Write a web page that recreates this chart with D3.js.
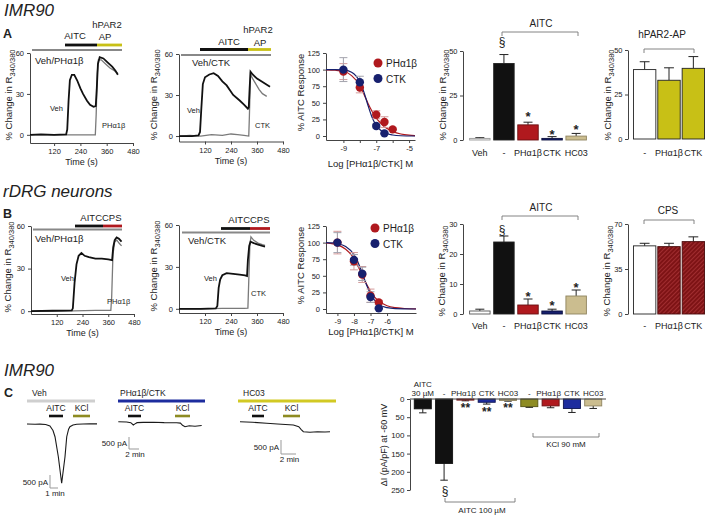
<!DOCTYPE html>
<html>
<head>
<meta charset="utf-8">
<script src="https://cdn.jsdelivr.net/npm/d3@7"></script>
<style>
  body { margin: 0; background: #fff; }
  text { font-family: 'Liberation Sans', Arial, sans-serif; fill: #222; }
</style>
</head>
<body>
<svg id="fig" width="709" height="515"></svg>
<script>
// ---------- data ----------
const timeTicks = [120, 240, 360, 480];
const traceTicks = [0, 30, 60];

// calcium traces: [time s, % change]
const traceA1Veh = [[10,0],[60,0.3],[120,0],[175,0.3],[180,4],[186,25],[192,40],[201,44],[212,44],[225,40],[240,34],[252,30],[270,25],[284,22],[300,20.5],[310,21],[315,35],[320,52],[328,57],[345,56],[365,53],[385,50],[400,47],[411,44]];
const traceA1PH = [[10,0],[150,0],[250,0],[308,0],[312,15],[317,45],[322,55],[335,55],[355,52],[375,49],[395,47],[411,45]];
const traceA2Veh = [[0,0],[60,0],[90,0.5],[97,3],[103,20],[110,38],[120,43],[140,45],[160,46],[180,44],[200,40],[220,37],[250,30],[280,26],[300,23],[318,20],[322,21],[326,35],[330,47],[340,45],[360,42],[380,40],[400,38],[420,36]];
const traceA2CTK = [[0,0],[50,0.5],[100,0],[150,1],[200,0.5],[240,1.5],[270,1],[300,0.5],[322,0],[325,15],[330,45],[340,42],[355,38],[370,34],[385,31],[405,29]];
const traceB1Veh = [[0,0],[100,0.3],[190,0.5],[195,2],[203,20],[212,33],[222,39],[235,41],[250,39],[270,38],[300,37],[330,37],[360,36.5],[378,36],[383,45],[390,50],[399,52],[410,51],[422,49]];
const traceB1PH = [[0,0],[150,0],[300,0.5],[372,0.5],[376,10],[382,40],[390,49],[400,50],[410,48],[422,46]];
const traceB2Veh = [[0,0],[100,0],[170,0.3],[177,2],[183,15],[190,21],[200,24],[220,25.5],[250,25],[280,24.5],[305,24],[314,23.5],[318,35],[324,45],[330,48],[345,47],[365,46],[385,45],[397,44.5]];
const traceB2CTK = [[0,0],[100,0],[200,0.3],[300,0.3],[318,0.5],[322,20],[327,45],[332,51.5],[345,49],[365,47],[385,46],[397,45.5]];

// concentration-response: log M, % response, sem
const doseA_PH = [[-9,97,12],[-8,73,8],[-7,32,6],[-6.5,21,8],[-6,10,2]];
const doseA_CTK = [[-9,100,18],[-8,81,9],[-7,15,3],[-6.5,4,2]];
const doseB_PH = [[-9,100,17],[-8,72,13],[-7.5,52,12],[-7,20,10],[-6.5,10,3]];
const doseB_CTK = [[-9,100,15],[-8,74,8],[-7.5,53,10],[-7,18,8],[-6.5,1,2]];
const fitA_PH = [[-10.06,99.5],[-9.5,99],[-9,97.5],[-8.5,91],[-8,76],[-7.75,63],[-7.5,49],[-7.25,37],[-7,27],[-6.75,20],[-6.5,14],[-6,7],[-5.5,3],[-5,1.2],[-4.64,0.6]];
const fitA_CTK = [[-10.06,100],[-9.5,100],[-9,99.5],[-8.5,96],[-8.25,91],[-8,82],[-7.75,66],[-7.5,46],[-7.25,28],[-7,16],[-6.75,9],[-6.5,5],[-6,1.5],[-5.5,0.4],[-4.64,0]];
const fitB_PH = [[-9.69,99.5],[-9.25,98],[-9,96.5],[-8.5,90],[-8,76],[-7.75,64],[-7.5,51],[-7.25,38],[-7,27],[-6.75,18],[-6.5,12],[-6,5],[-5.5,2],[-4.95,0.8],[-4.25,0.2]];
const fitB_CTK = [[-9.69,100],[-9.25,99.5],[-9,98.5],[-8.5,94],[-8,82],[-7.75,70],[-7.5,54],[-7.25,37],[-7,23],[-6.75,13],[-6.5,7],[-6,2],[-5.5,0.6],[-4.25,0]];

// bar charts
const catsAITC = ["Veh", "-", "PHα1β", "CTK", "HC03"];
const catsAgonist = ["-", "PHα1β", "CTK"];
const barA_AITC = [0.9, 43, 8.5, 0.9, 2.2];
const barA_AITC_err = [1.3, 48, 10, 1.9, 3.7];
const barA_PAR2 = [39, 33, 39.7];
const barA_PAR2_err = [43.4, 40, 46.3];
const barB_AITC = [1, 24, 3, 1, 6];
const barB_AITC_err = [1.6, 26, 5, 1.6, 8];
const barB_CPS = [53, 52.4, 56.3];
const barB_CPS_err = [55, 55, 60];

// patch clamp
const catsC = ["AITC|30 µM", "-", "PHα1β", "CTK", "HC03", "-", "PHα1β", "CTK", "HC03"];
const barC = [27, 177, 3, 9, 4, 21, 19, 26, 19];
const barC_err = [38, 223, 5, 14, 6, 23, 24, 37, 26];
const traceC1 = [[0,0],[60,-10],[97,-5],[140,-20],[172,-77],[195,-250],[210,-490],[235,-1260],[260,-2280],[285,-1260],[298,-490],[312,-200],[322,-105],[345,-40],[373,-10],[420,0],[470,10],[525,5]];
const traceC2 = [[0,0],[100,-10],[150,-40],[180,-137],[200,-90],[225,-40],[300,-30],[420,-20],[550,-40],[700,-45],[745,-60],[770,-150],[800,-210],[850,-170],[920,-190],[1000,-160]];
const traceC3 = [[0,0],[100,-20],[213,-57],[300,-80],[427,-118],[470,-180],[490,-280],[507,-357],[560,-379],[620,-360],[680,-370],[720,-357]];

// ---------- colours ----------
const cBlack = "#111";
const cRed = "#b0191e";
const cNavy = "#17206e";
const cBlue = "#1d2c9e";
const cKhaki = "#cbbd8f";
const cYellow = "#c8c016";
const cOlive = "#8d8b22";

const svg = d3.select("#fig");

const defs = svg.append("defs");
const hatch = defs.append("pattern")
  .attr("id", "hatch")
  .attr("patternUnits", "userSpaceOnUse")
  .attr("width", 3).attr("height", 3)
  .attr("patternTransform", "rotate(45)");
hatch.append("rect").attr("width", 3).attr("height", 3).attr("fill", "#7e1315");
hatch.append("line").attr("x1", 0).attr("y1", 0).attr("x2", 0).attr("y2", 3)
  .attr("stroke", "#c2474a").attr("stroke-width", 1);

// ---------- helpers ----------
function txt(g, x, y, s, size, anchor, extra) {
  const t = g.append("text")
    .attr("x", x).attr("y", y)
    .attr("font-size", size)
    .attr("text-anchor", anchor || "start")
    .text(s);
  if (extra === "bold") t.attr("font-weight", "bold");
  if (extra === "italic") t.attr("font-style", "italic");
  return t;
}

function styleAxis(a, size) {
  a.attr("font-family", null).attr("font-size", null);
  a.selectAll(".domain").attr("stroke", "#444");
  a.selectAll(".tick line").attr("stroke", "#444");
  a.selectAll(".tick text").attr("font-size", size || 7.5).attr("fill", "#333");
}

function changeLabel(g, x, y) {
  const t = g.append("text")
    .attr("transform", `translate(${x},${y}) rotate(-90)`)
    .attr("text-anchor", "middle")
    .attr("font-size", 9.5);
  t.append("tspan").text("% Change in R");
  t.append("tspan").attr("font-size", 7.5).attr("dy", 3).text("340/380");
}

function hbar(g, x1, x2, y, color, w) {
  g.append("line")
    .attr("x1", x1).attr("x2", x2).attr("y1", y).attr("y2", y)
    .attr("stroke", color).attr("stroke-width", w);
}

function bracket(g, x1, x2, y, dir) {
  g.append("path")
    .attr("d", `M${x1},${y + dir * 4}V${y}H${x2}V${y + dir * 4}`)
    .attr("fill", "none").attr("stroke", "#777").attr("stroke-width", 0.9);
}

// ---------- Ca2+ trace panels ----------
function tracePanel(o) {
  const g = svg.append("g");
  const x = d3.scaleLinear().domain(o.xDomain).range(o.xRange);
  const y = d3.scaleLinear().domain(o.yDomain).range(o.yRange);

  styleAxis(g.append("g")
    .attr("transform", `translate(0,${o.yRange[0]})`)
    .call(d3.axisBottom(x).tickValues(timeTicks).tickSize(3).tickSizeOuter(0).tickPadding(3)));
  styleAxis(g.append("g")
    .attr("transform", `translate(${o.xRange[0]},0)`)
    .call(d3.axisLeft(y).tickValues(traceTicks).tickSize(3).tickSizeOuter(0).tickPadding(3)));

  const line = d3.line().x(d => x(d[0])).y(d => y(d[1]));
  g.append("path").datum(o.drug).attr("d", line)
    .attr("fill", "none").attr("stroke", "#7a7a7a").attr("stroke-width", 1.3);
  g.append("path").datum(o.veh).attr("d", line)
    .attr("fill", "none").attr("stroke", cBlack).attr("stroke-width", 1.8);

  txt(g, (o.xRange[0] + o.xRange[1]) / 2, o.yRange[0] + 22, "Time (s)", 9, "middle");
  changeLabel(g, o.labelX, (o.yRange[0] + o.yRange[1]) / 2 - 3);
  return g;
}

// A1
let g = tracePanel({ xDomain: [10, 480], xRange: [30, 133], yDomain: [-6, 60], yRange: [143, 53],
  veh: traceA1Veh, drug: traceA1PH, labelX: 12 });
hbar(g, 32, 122, 50, "#888", 2);
hbar(g, 65, 97, 45, cBlack, 2.8);
hbar(g, 97, 122, 45, cYellow, 2.8);
txt(g, 75, 39, "AITC", 9.5, "middle");
txt(g, 107, 28, "hPAR2", 9.5, "middle");
txt(g, 105, 40, "AP", 9.5, "middle");
txt(g, 35, 64, "Veh/PHα1β", 9.5);
txt(g, 50, 111, "Veh", 7.5);
txt(g, 102, 128, "PHα1β", 7.5);

// A2
g = tracePanel({ xDomain: [0, 480], xRange: [179, 283], yDomain: [-4, 60], yRange: [141.5, 54],
  veh: traceA2Veh, drug: traceA2CTK, labelX: 157 });
hbar(g, 181, 271, 55, "#888", 2);
hbar(g, 200, 248, 49.5, cBlack, 2.8);
hbar(g, 248, 271, 49.5, cYellow, 2.8);
txt(g, 229, 45, "AITC", 9.5, "middle");
txt(g, 258, 33, "hPAR2", 9.5, "middle");
txt(g, 260, 46, "AP", 9.5, "middle");
txt(g, 192, 66, "Veh/CTK", 9.5);
txt(g, 187, 113, "Veh", 7.5);
txt(g, 255, 128, "CTK", 7.5);

// B1
g = tracePanel({ xDomain: [0, 480], xRange: [31, 134], yDomain: [-2, 60], yRange: [314, 226],
  veh: traceB1Veh, drug: traceB1PH, labelX: 11 });
hbar(g, 33, 122, 229.5, "#888", 2);
hbar(g, 75, 103, 226, cBlack, 2.8);
hbar(g, 103, 122, 226, cRed, 2.8);
txt(g, 102, 221, "AITC", 9.5, "end");
txt(g, 102, 221, "CPS", 9.5);
txt(g, 35, 242, "Veh/PHα1β", 9.5);
txt(g, 61, 281, "Veh", 7.5);
txt(g, 107, 304, "PHα1β", 7.5);

// B2
g = tracePanel({ xDomain: [0, 480], xRange: [179, 283], yDomain: [-3, 60], yRange: [313, 225],
  veh: traceB2Veh, drug: traceB2CTK, labelX: 157 });
hbar(g, 182, 270, 232.5, "#888", 2);
hbar(g, 221, 250, 228.5, cBlack, 2.8);
hbar(g, 250, 270, 228.5, cRed, 2.8);
txt(g, 250, 223, "AITC", 9.5, "end");
txt(g, 250, 223, "CPS", 9.5);
txt(g, 188, 244, "Veh/CTK", 9.5);
txt(g, 204, 281, "Veh", 7.5);
txt(g, 251, 296, "CTK", 7.5);

// ---------- concentration-response ----------
function dosePanel(o) {
  const g = svg.append("g");
  const x = d3.scaleLinear().domain(o.xDomain).range(o.xRange);
  const y = d3.scaleLinear().domain(o.yDomain).range(o.yRange);

  styleAxis(g.append("g")
    .attr("transform", `translate(0,${o.yRange[0]})`)
    .call(d3.axisBottom(x).tickValues(o.xTicks).tickFormat(o.xFormat).tickSize(3).tickSizeOuter(0).tickPadding(3)));
  styleAxis(g.append("g")
    .attr("transform", `translate(${o.xRange[0]},0)`)
    .call(d3.axisLeft(y).tickValues([0, 25, 50, 75, 100, 125]).tickSize(3).tickSizeOuter(0).tickPadding(3)));

  const line = d3.line().x(d => x(d[0])).y(d => y(d[1])).curve(d3.curveMonotoneX);
  const sets = [
    { pts: o.ph, fit: o.fitPh, col: cRed, err: "#d49a9a" },
    { pts: o.ctk, fit: o.fitCtk, col: cNavy, err: "#a3a3ad" }
  ];
  sets.forEach(s => {
    g.append("path").datum(s.fit).attr("d", line)
      .attr("fill", "none").attr("stroke", s.col).attr("stroke-width", 1.2);
  });
  sets.forEach(s => {
    const eg = g.append("g").attr("stroke", s.err).attr("stroke-width", 1);
    eg.selectAll("path").data(s.pts).enter().append("path")
      .attr("fill", "none")
      .attr("d", d => `M${x(d[0]) - 4},${y(d[1] + d[2])}H${x(d[0]) + 4}M${x(d[0])},${y(d[1] + d[2])}V${y(d[1] - d[2])}M${x(d[0]) - 4},${y(d[1] - d[2])}H${x(d[0]) + 4}`);
  });
  sets.forEach(s => {
    g.selectAll(null).data(s.pts).enter().append("circle")
      .attr("cx", d => x(d[0])).attr("cy", d => y(d[1]))
      .attr("r", 4.2).attr("fill", s.col);
  });

  // legend
  g.append("circle").attr("cx", o.legX).attr("cy", o.legY).attr("r", 4.5).attr("fill", cRed);
  g.append("circle").attr("cx", o.legX).attr("cy", o.legY + 15.5).attr("r", 4.5).attr("fill", cNavy);
  txt(g, o.legX + 8, o.legY + 4, "PHα1β", 10);
  txt(g, o.legX + 8, o.legY + 19.5, "CTK", 10);

  txt(g, (o.xRange[0] + o.xRange[1]) / 2, o.titleY, "Log [PHα1β/CTK] M", 9.5, "middle");
  g.append("text")
    .attr("transform", `translate(${o.xRange[0] - 22},${(o.yRange[0] + o.yRange[1]) / 2 - 4}) rotate(-90)`)
    .attr("text-anchor", "middle").attr("font-size", 9.5)
    .text("% AITC Response");
}

dosePanel({ xDomain: [-10.06, -4.64], xRange: [326, 415], yDomain: [-6, 125], yRange: [140, 53],
  xTicks: [-9, -8, -7, -6, -5], xFormat: d => (d % 2 !== 0 ? d : ""),
  ph: doseA_PH, ctk: doseA_CTK, fitPh: fitA_PH, fitCtk: fitA_CTK,
  legX: 378, legY: 63, titleY: 167 });
dosePanel({ xDomain: [-9.69, -4.25], xRange: [326, 416], yDomain: [-6, 125], yRange: [313, 226],
  xTicks: [-9, -8, -7, -6], xFormat: d => d,
  ph: doseB_PH, ctk: doseB_CTK, fitPh: fitB_PH, fitCtk: fitB_CTK,
  legX: 375, legY: 228, titleY: 335 });

// ---------- bar panels ----------
function barPanel(o) {
  const g = svg.append("g");
  const idx = o.cats.map((c, i) => i);
  const x = d3.scaleBand().domain(idx).range(o.xRange).padding(o.pad);
  const y = d3.scaleLinear().domain(o.yDomain).range(o.yRange);

  styleAxis(g.append("g")
    .attr("transform", `translate(${o.axisX},0)`)
    .call(d3.axisLeft(y).tickValues(o.ticks).tickSize(3).tickSizeOuter(0).tickPadding(2.5)), o.tickSize);

  const cap = x.bandwidth() * 0.22;
  g.selectAll("path.err").data(idx).enter().append("path")
    .attr("fill", "none").attr("stroke", "#222").attr("stroke-width", 1)
    .attr("d", i => {
      const cx = x(i) + x.bandwidth() / 2;
      return `M${cx},${y(o.vals[i])}V${y(o.errs[i])}M${cx - cap},${y(o.errs[i])}H${cx + cap}`;
    });
  g.selectAll("rect.bar").data(idx).enter().append("rect")
    .attr("x", i => x(i))
    .attr("y", i => Math.min(y(0), y(o.vals[i])))
    .attr("width", x.bandwidth())
    .attr("height", i => Math.abs(y(o.vals[i]) - y(0)))
    .attr("fill", i => o.colors[i])
    .attr("stroke", i => o.strokes ? o.strokes[i] : "#222")
    .attr("stroke-width", 0.9);
  return { g, x, y };
}

// A: AITC
let p = barPanel({ cats: catsAITC, vals: barA_AITC, errs: barA_AITC_err,
  colors: ["#f2f2f2", cBlack, cRed, cNavy, cKhaki],
  strokes: ["#999", "#222", "#6b1012", "#0c103e", "#8f845f"],
  xRange: [466, 590], pad: 0.15, yDomain: [0, 50], yRange: [140, 51], axisX: 463, ticks: [0, 25, 50] });
catsAITC.forEach((c, i) => txt(p.g, p.x(i) + p.x.bandwidth() / 2, 155.5, c, 9, "middle"));
txt(p.g, 502, 46, "§", 12, "middle");
[[2, 121], [3, 139], [4, 134]].forEach(s => txt(p.g, p.x(s[0]) + p.x.bandwidth() / 2, s[1], "*", 13, "middle", "bold"));
bracket(p.g, 502, 578, 32, 1);
txt(p.g, 541, 27, "AITC", 10, "middle");
changeLabel(p.g, 446, 95);

// A: hPAR2-AP
p = barPanel({ cats: catsAgonist, vals: barA_PAR2, errs: barA_PAR2_err,
  colors: ["#fff", cYellow, cYellow],
  xRange: [631.5, 706.5], pad: 0.08, yDomain: [0, 50], yRange: [139, 50], axisX: 628, ticks: [0, 25, 50] });
catsAgonist.forEach((c, i) => txt(p.g, p.x(i) + p.x.bandwidth() / 2, 155.5, c, 9, "middle"));
bracket(p.g, 644, 694, 49, 1);
txt(p.g, 662, 37.5, "hPAR2-AP", 10, "middle");
changeLabel(p.g, 611, 95);

// B: AITC
p = barPanel({ cats: catsAITC, vals: barB_AITC, errs: barB_AITC_err,
  colors: ["#fff", cBlack, cRed, cNavy, cKhaki],
  strokes: ["#555", "#222", "#6b1012", "#0c103e", "#8f845f"],
  xRange: [466, 590], pad: 0.15, yDomain: [0, 30], yRange: [314, 224], axisX: 463, ticks: [0, 10, 20, 30] });
catsAITC.forEach((c, i) => txt(p.g, p.x(i) + p.x.bandwidth() / 2, 328.5, c, 9, "middle"));
txt(p.g, 502, 234, "§", 12, "middle");
[[2, 301], [3, 310], [4, 292]].forEach(s => txt(p.g, p.x(s[0]) + p.x.bandwidth() / 2, s[1], "*", 13, "middle", "bold"));
bracket(p.g, 502, 578, 216, 1);
txt(p.g, 541, 211, "AITC", 10, "middle");
changeLabel(p.g, 445, 271);

// B: CPS
p = barPanel({ cats: catsAgonist, vals: barB_CPS, errs: barB_CPS_err,
  colors: ["#fff", "url(#hatch)", "url(#hatch)"],
  strokes: ["#222", "#4a0b0c", "#4a0b0c"],
  xRange: [631.5, 706.5], pad: 0.08, yDomain: [0, 70], yRange: [314, 224], axisX: 628, ticks: [0, 35, 70] });
catsAgonist.forEach((c, i) => txt(p.g, p.x(i) + p.x.bandwidth() / 2, 328.5, c, 9, "middle"));
bracket(p.g, 644, 694, 220, 1);
txt(p.g, 668, 214, "CPS", 10, "middle");
changeLabel(p.g, 610, 271);

// C: current density bars (downward)
p = barPanel({ cats: catsC, vals: barC, errs: barC_err,
  colors: [cBlack, cBlack, cRed, cBlue, cKhaki, cOlive, cRed, cBlue, cKhaki],
  strokes: ["#111", "#111", "#6b1012", "#0c1450", "#8f845f", "#55540f", "#6b1012", "#0c1450", "#8f845f"],
  xRange: [410, 606], pad: 0.2, yDomain: [0, 250], yRange: [399, 490], axisX: 410,
  ticks: [0, 50, 100, 150, 200, 250], tickSize: 8 });
hbar(p.g, 410, 606, 399, "#444", 1);
catsC.forEach((c, i) => {
  const cx = p.x(i) + p.x.bandwidth() / 2;
  const parts = c.split("|");
  if (parts.length > 1) {
    txt(p.g, cx, 387, parts[0], 8, "middle");
    txt(p.g, cx, 396, parts[1], 8, "middle");
  } else {
    txt(p.g, cx + (c === "PHα1β" ? -2 : 0), 396, c, 8, "middle");
  }
});
[[2, 412], [3, 416], [4, 412]].forEach(s => txt(p.g, p.x(s[0]) + p.x.bandwidth() / 2, s[1], "**", 12, "middle", "bold"));
txt(p.g, 445, 495, "§", 12, "middle");
bracket(p.g, 445, 515, 502, -1);
txt(p.g, 482, 513, "AITC 100 µM", 8, "middle");
bracket(p.g, 533, 599, 437, -1);
txt(p.g, 566, 447, "KCl 90 mM", 8, "middle");
p.g.append("text")
  .attr("transform", "translate(387,445) rotate(-90)")
  .attr("text-anchor", "middle").attr("font-size", 9)
  .text("ΔI (pA/pF) at -60 mV");

// ---------- C: whole-cell current traces ----------
function currentTrace(o) {
  const g = svg.append("g");
  const x = d3.scaleLinear().domain(o.xDomain).range(o.xRange);
  const y = d3.scaleLinear().domain([0, -500]).range([o.y0, o.y0 + o.pxPer500]);
  g.append("path").datum(o.data)
    .attr("d", d3.line().x(d => x(d[0])).y(d => y(d[1])))
    .attr("fill", "none").attr("stroke", "#1a1a1a").attr("stroke-width", 1.1);
  // header bar and stimulus bars
  txt(g, o.headX, 396, o.head, 8.5);
  hbar(g, o.headBar[0], o.headBar[1], 401, o.headCol, 3);
  txt(g, (o.aitc[0] + o.aitc[1]) / 2, 411, "AITC", 8.5, "middle");
  txt(g, (o.kcl[0] + o.kcl[1]) / 2, 411, "KCl", 8.5, "middle");
  hbar(g, o.aitc[0], o.aitc[1], 416, cBlack, 2.6);
  hbar(g, o.kcl[0], o.kcl[1], 416, cOlive, 2.6);
  // scale bar
  const sx = o.scale[0], sy = o.scale[1];
  const h = y(-500) - y(0);
  const w = x(o.scaleSec) - x(0);
  g.append("path")
    .attr("d", `M${sx},${sy - h}V${sy}H${sx + w}`)
    .attr("fill", "none").attr("stroke", "#999").attr("stroke-width", 1);
  txt(g, sx - 2, sy - h / 2 + 3, "500 pA", 8, "end");
  txt(g, sx + w / 2 + 1, sy + 7.5, o.scaleText, 8, "middle");
}

currentTrace({ data: traceC1, xDomain: [0, 525], xRange: [27, 97], y0: 424, pxPer500: 13,
  head: "Veh", headX: 32, headBar: [27, 95], headCol: "#cfcfcf",
  aitc: [49, 63], kcl: [73, 90], scale: [50, 488], scaleSec: 60, scaleText: "1 min" });
currentTrace({ data: traceC2, xDomain: [0, 1000], xRange: [118.3, 201.7], y0: 421.7, pxPer500: 12,
  head: "PHα1β/CTK", headX: 120, headBar: [118, 205], headCol: cBlue,
  aitc: [128, 141], kcl: [175, 190], scale: [129, 449], scaleSec: 120, scaleText: "2 min" });
currentTrace({ data: traceC3, xDomain: [0, 720], xRange: [240, 330], y0: 421.7, pxPer500: 14,
  head: "HC03", headX: 243, headBar: [238, 336], headCol: "#d2c923",
  aitc: [252, 264], kcl: [283, 300], scale: [281, 454], scaleSec: 120, scaleText: "2 min" });

// ---------- headings ----------
const hg = svg.append("g");
txt(hg, 4, 16, "IMR90", 17, "start", "italic");
txt(hg, 3, 197, "rDRG neurons", 17, "start", "italic");
txt(hg, 4, 376, "IMR90", 17, "start", "italic");
txt(hg, 3, 38, "A", 12.5, "start", "bold");
txt(hg, 3, 218, "B", 12.5, "start", "bold");
txt(hg, 4, 397, "C", 12.5, "start", "bold");
</script>
</body>
</html>
